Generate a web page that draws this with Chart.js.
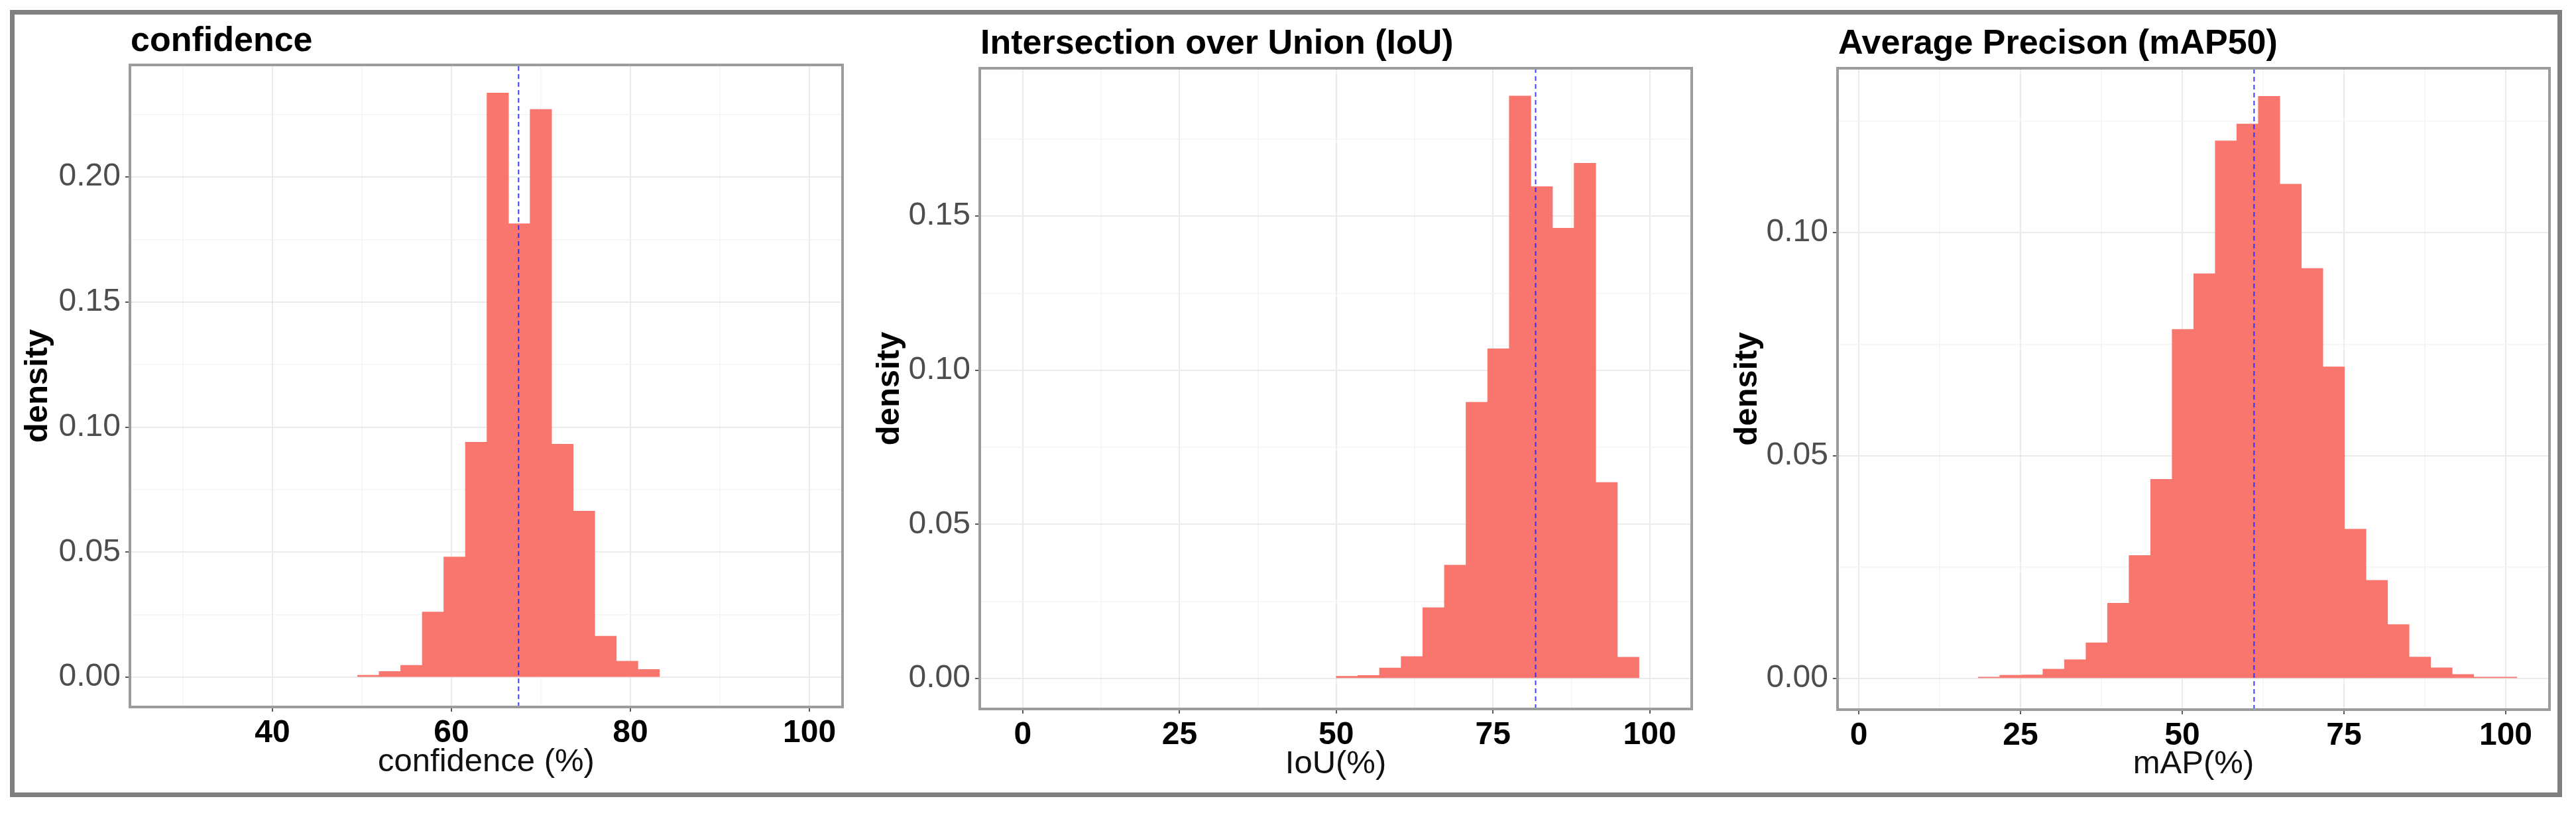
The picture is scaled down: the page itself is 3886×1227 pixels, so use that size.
<!DOCTYPE html>
<html>
<head>
<meta charset="utf-8">
<script src="https://cdn.jsdelivr.net/npm/chart.js@4.4.1/dist/chart.umd.min.js"></script>
<style>
html,body{margin:0;padding:0;background:#ffffff;}
body{width:3886px;height:1227px;position:relative;overflow:hidden;}
#frame{position:absolute;left:15px;top:15px;width:3836px;height:1174px;border:7px solid #7f7f7f;}
canvas{position:absolute;top:22px;display:block;}
</style>
</head>
<body>
<div id="frame"></div>
<canvas id="c1" width="1278" height="1175" style="left:22px"></canvas>
<canvas id="c2" width="1300" height="1175" style="left:1300px"></canvas>
<canvas id="c3" width="1258" height="1175" style="left:2600px"></canvas>
<script>
// ---------- data ----------
// Panel 1: confidence
const confTitle = 'confidence';
const confXTitle = 'confidence (%)';
const confBinCenters = [50.71, 53.12, 55.53, 57.94, 60.35, 62.76, 65.17, 67.58, 69.99, 72.40, 74.81, 77.22, 79.63, 82.04];
const confDensity    = [0.0008, 0.0023, 0.0048, 0.0261, 0.0481, 0.0940, 0.2336, 0.1813, 0.2270, 0.0932, 0.0664, 0.0164, 0.0064, 0.0031];
const confMean = 67.5;
const confXRange = [24.07, 103.7];
const confYRange = [-0.0119, 0.2448];
const confXMajor = [40, 60, 80, 100];
const confXMinor = [30, 50, 70, 90];
const confYMajor = [0, 0.05, 0.10, 0.15, 0.20];
const confYMinor = [0.025, 0.075, 0.125, 0.175, 0.225];

// Panel 2: IoU
const iouTitle = 'Intersection over Union (IoU)';
const iouXTitle = 'IoU(%)';
const iouBinCenters = [51.72, 55.17, 58.62, 62.07, 65.52, 68.97, 72.42, 75.87, 79.32, 82.77, 86.22, 89.67, 93.12, 96.57];
const iouDensity    = [0.0007, 0.0010, 0.0034, 0.0071, 0.0230, 0.0368, 0.0896, 0.1070, 0.1890, 0.1596, 0.1461, 0.1672, 0.0636, 0.0069];
const iouMean = 81.8;
const iouXRange = [-6.87, 106.7];
const iouYRange = [-0.0099, 0.198];
const iouXMajor = [0, 25, 50, 75, 100];
const iouXMinor = [12.5, 37.5, 62.5, 87.5];
const iouYMajor = [0, 0.05, 0.10, 0.15];
const iouYMinor = [0.025, 0.075, 0.125, 0.175];

// Panel 3: mAP50
const mapTitle = 'Average Precison (mAP50)';
const mapXTitle = 'mAP(%)';
const mapBinCenters = [20.13, 23.46, 26.79, 30.12, 33.45, 36.78, 40.11, 43.44, 46.77, 50.10, 53.43, 56.76, 60.09,
                       63.42, 66.75, 70.08, 73.41, 76.74, 80.07, 83.40, 86.73, 90.06, 93.39, 96.72, 100.05];
const mapDensity    = [0.0003, 0.0007, 0.0008, 0.0021, 0.0042, 0.0080, 0.0169, 0.0276, 0.0447, 0.0783, 0.0908, 0.1206, 0.1244,
                       0.1306, 0.1109, 0.0920, 0.0699, 0.0335, 0.0220, 0.0121, 0.0048, 0.0024, 0.0009, 0.0003, 0.0003];
const mapMean = 61.1;
const mapXRange = [-3.28, 106.76];
const mapYRange = [-0.0070, 0.1369];
const mapXMajor = [0, 25, 50, 75, 100];
const mapXMinor = [12.5, 37.5, 62.5, 87.5];
const mapYMajor = [0, 0.05, 0.10];
const mapYMinor = [0.025, 0.075, 0.125];

const yAxisTitle = 'density';

// ---------- styling ----------
const FONT = "'Liberation Sans', Arial, Helvetica, sans-serif";
const BAR_COLOR = '#F8766D';
const MEAN_COLOR = 'rgba(30,30,255,0.85)';
const GRID_MAJOR = '#ebebeb';
const GRID_MINOR = '#f4f4f4';
const TICK_COLOR = '#5a5a5a';

Chart.defaults.font.family = FONT;
Chart.defaults.animation = false;

const panelTitlePlugin = {
  id: 'panelTitle',
  afterDraw(chart, args, opts) {
    const {ctx, chartArea} = chart;
    ctx.save();
    ctx.font = 'bold 52px ' + FONT;
    ctx.fillStyle = '#000000';
    ctx.textAlign = 'left';
    ctx.textBaseline = 'alphabetic';
    ctx.fillText(opts.text, chartArea.left + 1, chartArea.top - opts.gap);
    ctx.restore();
  }
};

const panelBorderPlugin = {
  id: 'panelBorder',
  afterDraw(chart) {
    const {ctx, chartArea} = chart;
    ctx.save();
    ctx.strokeStyle = '#9c9c9c';
    ctx.lineWidth = 4;
    ctx.strokeRect(chartArea.left, chartArea.top, chartArea.right - chartArea.left, chartArea.bottom - chartArea.top);
    ctx.restore();
  }
};

function makePanel(canvasId, p) {
  const xTicks = [...p.xMajor, ...p.xMinor].sort((a, b) => a - b);
  const yTicks = [...p.yMajor, ...p.yMinor].sort((a, b) => a - b);
  const isXMajor = v => p.xMajor.includes(v);
  const isYMajor = v => p.yMajor.includes(v);
  const bars = p.centers.map((c, i) => ({x: c, y: p.density[i]}));
  const meanLine = [{x: p.mean, y: p.yRange[0]}, {x: p.mean, y: p.yRange[1]}];

  return new Chart(document.getElementById(canvasId), {
    type: 'bar',
    data: {
      datasets: [
        {
          type: 'line',
          data: meanLine,
          borderColor: MEAN_COLOR,
          borderWidth: 2,
          borderDash: [7, 5],
          pointRadius: 0,
          fill: false,
          order: 0
        },
        {
          type: 'bar',
          data: bars,
          backgroundColor: BAR_COLOR,
          borderWidth: 0,
          barPercentage: 1.0,
          categoryPercentage: 1.0,
          order: 1
        }
      ]
    },
    options: {
      responsive: false,
      devicePixelRatio: 1,
      animation: false,
      layout: {padding: {top: p.padTop, right: p.padRight, bottom: 0, left: 0}},
      plugins: {
        legend: {display: false},
        tooltip: {enabled: false},
        panelTitle: {text: p.title, gap: p.titleGap}
      },
      scales: {
        x: {
          type: 'linear',
          position: 'bottom',
          min: p.xRange[0],
          max: p.xRange[1],
          offset: false,
          afterBuildTicks: s => { s.ticks = xTicks.map(v => ({value: v})); },
          afterFit: s => { s.height = p.xAxisH; },
          border: {display: false},
          grid: {
            offset: false,
            drawTicks: true,
            tickLength: 7,
            tickWidth: 2,
            color: c => (c.tick && isXMajor(c.tick.value)) ? GRID_MAJOR : GRID_MINOR,
            lineWidth: c => (c.tick && isXMajor(c.tick.value)) ? 2 : 1.5,
            tickColor: c => (c.tick && isXMajor(c.tick.value)) ? TICK_COLOR : 'rgba(0,0,0,0)'
          },
          ticks: {
            autoSkip: false,
            maxRotation: 0,
            minRotation: 0,
            padding: 4,
            color: '#000000',
            font: {family: FONT, size: 48, weight: 'bold', lineHeight: 1.2},
            callback: v => isXMajor(v) ? String(v) : ''
          },
          title: {
            display: true,
            text: p.xTitle,
            color: '#111111',
            font: {family: FONT, size: 49, weight: 'normal', lineHeight: 1.2},
            padding: {top: 0, bottom: p.xTitlePad}
          }
        },
        y: {
          type: 'linear',
          position: 'left',
          min: p.yRange[0],
          max: p.yRange[1],
          afterBuildTicks: s => { s.ticks = yTicks.map(v => ({value: v})); },
          afterFit: s => { s.width = p.yAxisW; },
          border: {display: false},
          grid: {
            drawTicks: true,
            tickLength: 7,
            tickWidth: 2,
            color: c => (c.tick && isYMajor(c.tick.value)) ? GRID_MAJOR : GRID_MINOR,
            lineWidth: c => (c.tick && isYMajor(c.tick.value)) ? 2 : 1.5,
            tickColor: c => (c.tick && isYMajor(c.tick.value)) ? TICK_COLOR : 'rgba(0,0,0,0)'
          },
          ticks: {
            autoSkip: false,
            padding: 7,
            color: '#4d4d4d',
            font: {family: FONT, size: 48, weight: 'normal', lineHeight: 1.2},
            callback: v => isYMajor(v) ? v.toFixed(2) : ''
          },
          title: {
            display: true,
            text: yAxisTitle,
            color: '#000000',
            font: {family: FONT, size: 49, weight: 'bold', lineHeight: 1.2},
            padding: {top: p.yTitlePad, bottom: 0}
          }
        }
      }
    },
    plugins: [panelTitlePlugin, panelBorderPlugin]
  });
}

makePanel('c1', {
  title: confTitle, xTitle: confXTitle, centers: confBinCenters, density: confDensity, mean: confMean,
  xRange: confXRange, yRange: confYRange, xMajor: confXMajor, xMinor: confXMinor, yMajor: confYMajor, yMinor: confYMinor,
  padTop: 76, padRight: 29, yAxisW: 174, xAxisH: 130, yTitlePad: 6, xTitlePad: 17, titleGap: 21
});
makePanel('c2', {
  title: iouTitle, xTitle: iouXTitle, centers: iouBinCenters, density: iouDensity, mean: iouMean,
  xRange: iouXRange, yRange: iouYRange, xMajor: iouXMajor, xMinor: iouXMinor, yMajor: iouYMajor, yMinor: iouYMinor,
  padTop: 81, padRight: 48, yAxisW: 178, xAxisH: 127, yTitlePad: 13, xTitlePad: 14, titleGap: 22
});
makePanel('c3', {
  title: mapTitle, xTitle: mapXTitle, centers: mapBinCenters, density: mapDensity, mean: mapMean,
  xRange: mapXRange, yRange: mapYRange, xMajor: mapXMajor, xMinor: mapXMinor, yMajor: mapYMajor, yMinor: mapYMinor,
  padTop: 81, padRight: 12, yAxisW: 172, xAxisH: 126, yTitlePad: 7, xTitlePad: 14, titleGap: 22
});
</script>
</body>
</html>
